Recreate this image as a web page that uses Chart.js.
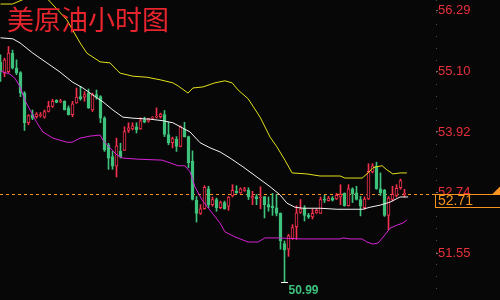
<!DOCTYPE html>
<html>
<head>
<meta charset="utf-8">
<title>美原油小时图</title>
<script src="https://cdn.jsdelivr.net/npm/chart.js@4.4.1/dist/chart.umd.min.js"></script>
<style>
  html, body { margin: 0; padding: 0; background: #070707; }
  #wrap { width: 500px; height: 300px; position: relative; }
</style>
</head>
<body>
<div id="wrap"><canvas id="chart"></canvas></div>
<script>
const chartTitle = '美原油小时图'

// hourly candles (open / high / low / close)
const opens = [55.28, 55.07, 55.10, 55.46, 55.17, 55.08, 54.68, 54.10, 54.26, 54.22,
  54.24, 54.21, 54.32, 54.42, 54.54, 54.51, 54.52, 54.39, 54.26, 54.49,
  54.61, 54.60, 54.68, 54.35, 54.65, 54.61, 54.19, 53.67, 53.44, 53.25,
  53.54, 53.56, 53.95, 53.98, 54.02, 53.98, 54.16, 54.13, 54.19, 54.21,
  54.22, 54.26, 53.87, 53.71, 53.78, 53.64, 53.98, 53.83, 53.35, 52.59,
  52.33, 52.42, 52.81, 52.50, 52.60, 52.44, 52.54, 52.47, 52.67, 52.76,
  52.73, 52.78, 52.78, 52.63, 52.66, 52.63, 52.66, 52.50, 52.47, 52.44,
  52.33, 51.74, 51.63, 51.84, 52.07, 52.35, 52.44, 52.29, 52.26, 52.34,
  52.33, 52.61, 52.58, 52.63, 52.61, 52.65, 52.72, 52.48, 52.81, 52.73,
  52.60, 52.44, 52.61, 53.14, 53.25, 52.81, 52.78, 52.29, 52.60, 52.68,
  52.83, 52.70]
const highs = [55.43, 55.36, 55.59, 55.52, 55.33, 55.10, 54.71, 54.26, 54.35, 54.30,
  54.30, 54.35, 54.52, 54.56, 54.55, 54.56, 54.53, 54.43, 54.52, 54.78,
  54.81, 54.71, 54.76, 54.68, 54.74, 54.63, 54.22, 53.70, 53.54, 53.80,
  53.70, 54.02, 54.10, 54.10, 54.10, 54.20, 54.21, 54.19, 54.22, 54.39,
  54.29, 54.34, 54.11, 53.82, 53.83, 54.04, 54.11, 53.84, 53.55, 52.66,
  52.50, 52.87, 52.86, 52.65, 52.63, 52.57, 52.57, 52.66, 52.89, 52.87,
  52.83, 52.84, 52.83, 52.76, 52.70, 52.85, 52.66, 52.65, 52.72, 52.70,
  52.34, 51.79, 51.92, 52.11, 52.48, 52.60, 52.48, 52.33, 52.42, 52.42,
  52.65, 52.68, 52.66, 52.66, 52.72, 52.89, 52.73, 52.89, 52.83, 52.86,
  52.66, 52.65, 53.30, 53.30, 53.33, 53.12, 52.80, 52.66, 52.86, 52.89,
  53.00, 52.80]
const lows = [54.91, 55.00, 55.08, 55.15, 55.04, 54.61, 53.95, 54.06, 54.16, 54.19,
  54.21, 54.19, 54.31, 54.40, 54.49, 54.49, 54.35, 54.25, 54.22, 54.48,
  54.54, 54.52, 54.38, 54.32, 54.56, 54.10, 53.54, 53.19, 53.19, 53.04,
  53.41, 53.56, 53.91, 53.96, 53.90, 53.97, 54.10, 54.11, 54.17, 54.19,
  54.19, 53.83, 53.67, 53.61, 53.54, 53.63, 53.82, 53.22, 52.59, 52.16,
  52.31, 52.41, 52.44, 52.47, 52.37, 52.42, 52.41, 52.39, 52.65, 52.72,
  52.72, 52.76, 52.60, 52.50, 52.50, 52.42, 52.24, 52.37, 52.29, 52.28,
  51.63, 50.99, 51.49, 51.82, 51.82, 52.33, 52.18, 52.23, 52.22, 52.33,
  52.33, 52.54, 52.57, 52.57, 52.60, 52.50, 52.47, 52.47, 52.54, 52.59,
  52.28, 52.41, 52.60, 53.12, 52.80, 52.68, 52.27, 52.01, 52.57, 52.65,
  52.80, 52.65]
const closes = [55.09, 55.33, 55.46, 55.17, 55.08, 54.68, 54.10, 54.24, 54.19, 54.27,
  54.26, 54.32, 54.42, 54.52, 54.50, 54.53, 54.35, 54.26, 54.47, 54.60,
  54.57, 54.65, 54.39, 54.65, 54.60, 54.19, 53.57, 53.41, 53.25, 53.65,
  53.44, 53.93, 54.00, 54.04, 53.96, 54.14, 54.11, 54.18, 54.21, 54.22,
  54.27, 53.87, 53.71, 53.79, 53.64, 54.02, 53.83, 53.32, 52.60, 52.33,
  52.42, 52.84, 52.50, 52.60, 52.44, 52.54, 52.42, 52.65, 52.78, 52.73,
  52.81, 52.81, 52.65, 52.66, 52.61, 52.65, 52.50, 52.45, 52.44, 52.33,
  51.79, 51.61, 51.89, 52.05, 52.34, 52.42, 52.29, 52.26, 52.33, 52.39,
  52.60, 52.59, 52.63, 52.59, 52.68, 52.70, 52.48, 52.81, 52.71, 52.60,
  52.47, 52.61, 53.15, 53.26, 52.81, 52.73, 52.29, 52.63, 52.70, 52.82,
  52.97, 52.71]

// bollinger bands, read at a few candle positions
const upperAt = [0, 3, 5.4, 8.6, 12, 16.6, 19.9, 21.6, 24.9, 27.4, 29.1, 29.9, 33.1, 36.6, 39.9,
  43.1, 44.4, 46.9, 48.1, 50.6, 53.6, 56.1, 57.9, 59.4, 61.9, 64.9, 67.4, 69.1, 71.1,
  72.9, 76.6, 79.9, 84.9, 86.1, 90.4, 91.9, 93.1, 93.9, 95.4, 96.6, 98.1, 99.9, 101.6]
const upperVals = [56.42, 56.42, 56.50, 56.62, 56.50, 56.11, 55.66, 55.46, 55.29, 55.27, 55.13, 55.07, 55.01, 54.99, 54.94,
  54.88, 54.82, 54.68, 54.78, 54.80, 54.88, 54.92, 54.88, 54.74, 54.57, 54.21, 53.82, 53.63, 53.37,
  53.12, 53.10, 53.06, 53.06, 53.02, 53.02, 53.12, 53.22, 53.24, 53.26, 53.18, 53.10, 53.12, 53.12]

const midAt = [0, 3.1, 4.9, 8.1, 11.6, 14.9, 17.9, 20.6, 23.1, 25.6, 28.1, 30.6, 33.1, 37.4, 40.6,
  43.1, 47.4, 49.9, 52.4, 54.9, 57.4, 60.6, 64.1, 67.4, 69.9, 71.6, 73.6, 75.6, 79.9,
  84.1, 90.6, 92.4, 94.9, 97.4, 99.9, 101.9]
const midVals = [55.76, 55.74, 55.66, 55.46, 55.27, 55.09, 54.90, 54.78, 54.64, 54.51, 54.35, 54.21, 54.19, 54.17, 54.14,
  54.10, 53.92, 53.71, 53.61, 53.53, 53.41, 53.24, 53.04, 52.85, 52.69, 52.53, 52.45, 52.43, 52.43,
  52.41, 52.41, 52.45, 52.49, 52.55, 52.65, 52.65]

const lowerAt = [0, 2.4, 3.6, 4.9, 6.1, 7.4, 9.1, 10.6, 13.1, 16.6, 17.9, 19.9, 22.4, 24.9, 25.6,
  27.4, 29.1, 30.6, 34.1, 40.4, 41.9, 44.4, 46.1, 47.4, 48.6, 50.4, 52.9, 54.9, 56.1,
  58.6, 61.9, 64.4, 66.1, 69.1, 75.6, 84.9, 85.6, 87.4, 90.4, 91.6, 93.1, 94.4, 96.1,
  97.4, 99.1, 100.6, 101.6]
const lowerVals = [55.11, 55.05, 54.97, 54.80, 54.54, 54.35, 54.10, 53.92, 53.80, 53.72, 53.72, 53.80, 53.84, 53.86, 53.76,
  53.61, 53.47, 53.41, 53.39, 53.37, 53.33, 53.26, 53.26, 53.14, 52.85, 52.59, 52.34, 52.14, 51.97,
  51.87, 51.77, 51.77, 51.85, 51.85, 51.83, 51.83, 51.85, 51.83, 51.83, 51.77, 51.73, 51.75, 51.91,
  52.04, 52.10, 52.14, 52.20]

const yTicks = [56.29, 55.10, 53.92, 52.74, 51.55]
const lastPrice = 52.71

const BG = '#070707'
const RED = '#f5324e'
const GREEN = '#3ec27c'

Chart.defaults.font.family = '"Liberation Sans", Arial, sans-serif'

var isUp = closes.map((c, i) => c >= opens[i])
var toPoints = (xs, ys) => xs.map((x, i) => ({x: x, y: ys[i]}))

// background, last price line, labels and title
const overlay = {
  id: 'overlay',
  beforeDraw(chart) {
    const ctx = chart.ctx
    ctx.save()
    ctx.fillStyle = BG
    ctx.fillRect(0, 0, chart.width, chart.height)
    // dotted axis line
    ctx.fillStyle = '#4a4a4a'
    for (let y = 0; y < chart.height; y += 12) {
      ctx.fillRect(chart.chartArea.right, y, 1, 1)
    }
    ctx.restore()
  },
  beforeDatasetsDraw(chart) {
    const ctx = chart.ctx
    const py = Math.round(chart.scales.y.getPixelForValue(lastPrice)) + 0.5
    ctx.save()
    ctx.strokeStyle = '#f7931e'
    ctx.lineWidth = 1
    ctx.setLineDash([3, 3])
    ctx.beginPath()
    ctx.moveTo(0, py)
    ctx.lineTo(chart.chartArea.right, py)
    ctx.stroke()
    ctx.restore()
  },
  afterDraw(chart) {
    const ctx = chart.ctx
    const xs = chart.scales.x
    const ys = chart.scales.y
    const area = chart.chartArea
    ctx.save()

    // last price box
    const py = Math.round(ys.getPixelForValue(lastPrice)) + 0.5
    ctx.fillStyle = BG
    ctx.fillRect(area.right - 1, py, 70, 13)
    ctx.strokeStyle = '#f7931e'
    ctx.lineWidth = 1
    ctx.strokeRect(area.right - 0.5, py, 70, 13)
    ctx.fillStyle = '#f7931e'
    ctx.font = '14px "Liberation Sans", Arial, sans-serif'
    ctx.textBaseline = 'middle'
    ctx.textAlign = 'left'
    ctx.fillText(lastPrice.toFixed(2), area.right + 2, py + 7)
    ctx.beginPath()
    ctx.moveTo(chart.width - 8, py)
    ctx.lineTo(chart.width, py - 8)
    ctx.lineTo(chart.width, py)
    ctx.closePath()
    ctx.fill()

    // lowest low marker
    let lowIdx = 0
    lows.forEach((v, i) => { if (v < lows[lowIdx]) lowIdx = i })
    const lx = xs.getPixelForValue(lowIdx)
    const ly = Math.round(ys.getPixelForValue(lows[lowIdx])) + 0.5
    ctx.strokeStyle = '#ffffff'
    ctx.beginPath()
    ctx.moveTo(lx - 3.5, ly)
    ctx.lineTo(lx + 3.5, ly)
    ctx.stroke()
    ctx.fillStyle = GREEN
    ctx.font = 'bold 12px "Liberation Sans", Arial, sans-serif'
    ctx.fillText(lows[lowIdx].toFixed(2), lx + 4, ly + 8)

    // title
    ctx.fillStyle = '#e8242e'
    ctx.font = '27px "Noto Sans CJK SC", sans-serif'
    ctx.textBaseline = 'middle'
    ctx.fillText(chartTitle, 7, 20)
    ctx.restore()
  }
}

var build_chart = () => {
  const candleIdx = opens.map((v, i) => i)
  const ctx = document.getElementById('chart').getContext('2d')

  globalThis.myChart = new Chart(ctx, {
    type: 'bar',
    data: {
      datasets: [
        {
          type: 'line', label: 'upper', data: toPoints(upperAt, upperVals),
          borderColor: '#e4e01c', borderWidth: 1, pointRadius: 0, tension: 0, order: 0
        },
        {
          type: 'line', label: 'mid', data: toPoints(midAt, midVals),
          borderColor: '#f2f2f2', borderWidth: 1, pointRadius: 0, tension: 0, order: 0
        },
        {
          type: 'line', label: 'lower', data: toPoints(lowerAt, lowerVals),
          borderColor: '#d622d6', borderWidth: 1, pointRadius: 0, tension: 0, order: 0
        },
        {
          label: 'body',
          data: candleIdx.map(i => ({x: i, y: [opens[i], closes[i]]})),
          backgroundColor: isUp.map(u => u ? BG : GREEN),
          borderColor: isUp.map(u => u ? RED : GREEN),
          borderWidth: 1, borderSkipped: false,
          barThickness: 3, minBarLength: 1, grouped: false, order: 1
        },
        {
          label: 'wick',
          data: candleIdx.map(i => ({x: i, y: [lows[i], highs[i]]})),
          backgroundColor: isUp.map(u => u ? RED : GREEN),
          borderWidth: 0, barThickness: 1, grouped: false, order: 2
        }
      ]
    },
    options: {
      animation: false,
      responsive: true,
      maintainAspectRatio: false,
      layout: { padding: 0 },
      plugins: { legend: { display: false }, tooltip: { enabled: false } },
      scales: {
        x: { type: 'linear', display: false, offset: false, min: -0.125, max: 108.875 },
        y: {
          position: 'right',
          min: 50.637,
          max: 56.499,
          afterBuildTicks: (scale) => { scale.ticks = yTicks.map(v => ({value: v})) },
          afterFit: (scale) => {
            scale.width = 64
            // no extra room for the edge labels, the plot uses the full height
            scale.paddingTop = 0
            scale.paddingBottom = 0
          },
          grid: { display: true, drawOnChartArea: false, drawTicks: true, tickLength: 2, color: '#777' },
          border: { display: false },
          ticks: {
            color: '#e8303c',
            padding: 0,
            font: { size: 13 },
            callback: (v) => Number(v).toFixed(2)
          }
        }
      }
    },
    plugins: [overlay]
  })
}

build_chart()
</script>
</body>
</html>
